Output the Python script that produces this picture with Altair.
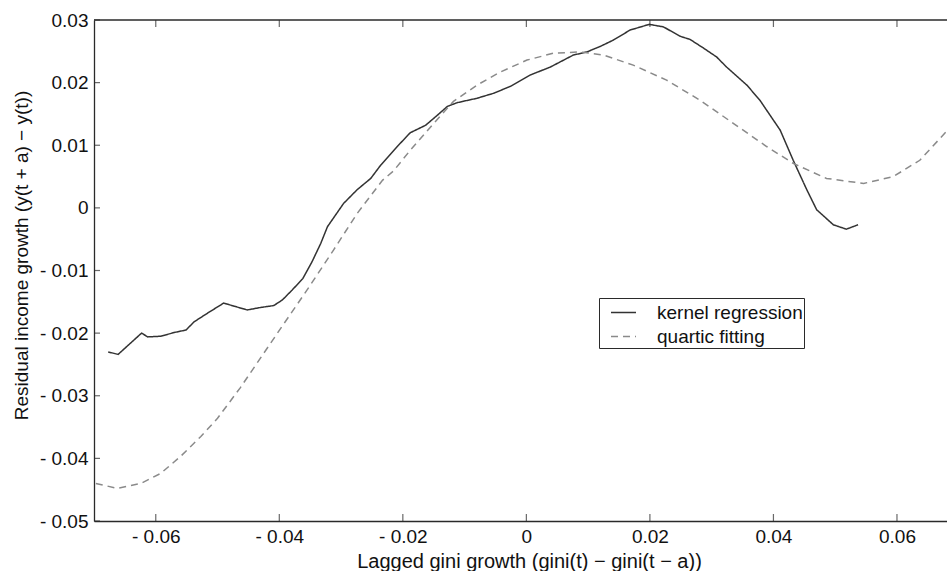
import altair as alt
import pandas as pd

series_names = ["kernel regression", "quartic fitting"]

kernel_x = [-0.0677, -0.0661, -0.0623, -0.0613, -0.0592, -0.0570, -0.0551, -0.0538, -0.0516,
            -0.0490, -0.0473, -0.0452, -0.0430, -0.0409, -0.0395, -0.0379, -0.0362, -0.0347,
            -0.0333, -0.0322, -0.0296, -0.0274, -0.0252, -0.0236, -0.0209, -0.0188, -0.0163,
            -0.0144, -0.0128, -0.0112, -0.0080, -0.0053, -0.0026, 0.0006, 0.0039, 0.0076,
            0.0098, 0.0120, 0.0141, 0.0168, 0.0199, 0.0222, 0.0249, 0.0265, 0.0287, 0.0308,
            0.0324, 0.0357, 0.0378, 0.0411, 0.0432, 0.0454, 0.0470, 0.0497, 0.0518, 0.0537]
kernel_y = [-0.0230, -0.0234, -0.0200, -0.0206, -0.0205, -0.0199, -0.0195, -0.0182, -0.0168,
            -0.0152, -0.0157, -0.0163, -0.0159, -0.0156, -0.0147, -0.0131, -0.0113, -0.0086,
            -0.0057, -0.0030, 0.0007, 0.0029, 0.0047, 0.0068, 0.0098, 0.0120, 0.0132,
            0.0148, 0.0162, 0.0168, 0.0175, 0.0183, 0.0194, 0.0212, 0.0225, 0.0244,
            0.0249, 0.0258, 0.0268, 0.0284, 0.0293, 0.0289, 0.0274, 0.0269, 0.0255, 0.0241,
            0.0225, 0.0196, 0.0172, 0.0124, 0.0076, 0.0029, -0.0003, -0.0027, -0.0034, -0.0027]

quartic_x = [-0.0697, -0.0662, -0.0624, -0.0592, -0.0560, -0.0527, -0.0500, -0.0463, -0.0403,
             -0.0355, -0.0312, -0.0274, -0.0233, -0.0215, -0.0188, -0.0150, -0.0118, -0.0080,
             -0.0042, 0.0001, 0.0044, 0.0087, 0.0125, 0.0173, 0.0227, 0.0281, 0.0335, 0.0389,
             0.0432, 0.0486, 0.0546, 0.0594, 0.0637, 0.0680]
quartic_y = [-0.0440, -0.0448, -0.0440, -0.0424, -0.0397, -0.0365, -0.0336, -0.0287, -0.0200,
             -0.0131, -0.0067, -0.0009, 0.0044, 0.0059, 0.0092, 0.0135, 0.0170, 0.0196,
             0.0217, 0.0236, 0.0247, 0.0249, 0.0244, 0.0228, 0.0204, 0.0172, 0.0135, 0.0098,
             0.0071, 0.0047, 0.0039, 0.0050, 0.0076, 0.0122]

x_ticks = [-0.06, -0.04, -0.02, 0, 0.02, 0.04, 0.06]
y_ticks = [-0.05, -0.04, -0.03, -0.02, -0.01, 0, 0.01, 0.02, 0.03]

df = pd.concat([
    pd.DataFrame({"x": kernel_x, "y": kernel_y, "series": series_names[0]}),
    pd.DataFrame({"x": quartic_x, "y": quartic_y, "series": series_names[1]}),
])

W, H = 853, 501
FONT = "Liberation Sans"
INK = "#2a2a2a"
TICK = 7

xs = alt.Scale(domain=[-0.07, 0.0681], nice=False, zero=False)
ys = alt.Scale(domain=[-0.05, 0.03], nice=False, zero=False)

lab = "datum.value == 0 ? '0' : (datum.value < 0 ? '- ' : '') + format(abs(datum.value), '.2f')"

x_axis = alt.Axis(
    values=x_ticks, labelExpr=lab, title="Lagged gini growth (gini(t) \u2212 gini(t \u2212 a))",
    labelFlush=False, labelOverlap=False, labelPadding=6, titleFontSize=20,
    titleX=435, titleY=40, titleAlign="center", titleBaseline="middle")
y_axis = alt.Axis(
    values=y_ticks, labelExpr=lab, title="Residual income growth (y(t + a) \u2212 y(t))",
    labelFlush=False, labelOverlap=False, labelPadding=6,
    titleX=-73, titleY=235, titleAngle=-90, titleAlign="center", titleBaseline="middle")

legend = alt.Legend(
    orient="none", legendX=505, legendY=278, title=None,
    symbolType="stroke", symbolSize=625, symbolStrokeWidth=1.4,
    labelFont=FONT, labelFontSize=19, labelColor="#111111", labelOffset=20,
    rowPadding=-2, padding=1, symbolOffset=10,
    strokeColor=INK, fillColor="white",
)

lines = alt.Chart(df).mark_line(strokeWidth=1.5, clip=True).encode(
    x=alt.X("x:Q", scale=xs, axis=x_axis),
    y=alt.Y("y:Q", scale=ys, axis=y_axis),
    color=alt.Color("series:N", scale=alt.Scale(domain=series_names, range=["#333333", "#8a8a8a"]),
                    legend=legend),
    strokeDash=alt.StrokeDash("series:N", scale=alt.Scale(domain=series_names, range=[[1, 0], [7, 5]]),
                              legend=legend),
)

xt = pd.DataFrame({"v": x_ticks})
yt = pd.DataFrame({"v": y_ticks})
one = pd.DataFrame({"v": [0]})

bottom_ticks = alt.Chart(xt).mark_tick(color=INK, thickness=1.2, size=TICK, orient="vertical").encode(
    x=alt.X("v:Q", scale=xs, axis=None), y=alt.value(H - TICK / 2))
top_ticks = alt.Chart(xt).mark_tick(color=INK, thickness=1.2, size=TICK, orient="vertical").encode(
    x=alt.X("v:Q", scale=xs, axis=None), y=alt.value(TICK / 2))
left_ticks = alt.Chart(yt).mark_tick(color=INK, thickness=1.2, size=TICK - 1, orient="horizontal").encode(
    y=alt.Y("v:Q", scale=ys, axis=None), x=alt.value((TICK - 1) / 2))
top_line = alt.Chart(one).mark_rule(color=INK, strokeWidth=1.3).encode(
    x=alt.value(0), x2=alt.value(W), y=alt.value(0))

chart = alt.layer(lines, bottom_ticks, top_ticks, left_ticks, top_line).resolve_axis(
    x="independent", y="independent"
).properties(
    width=W, height=H,
    autosize=alt.AutoSizeParams(type="none"),
    padding={"left": 94, "top": 20, "right": 0, "bottom": 50},
    background="white",
).configure_view(stroke=None).configure_axis(
    domainColor=INK, domainWidth=1.3, ticks=False, grid=False,
    labelFont=FONT, labelFontSize=19, labelColor="#111111",
    titleFont=FONT, titleFontSize=19, titleFontWeight="normal", titleColor="#111111",
)

chart.save("out.html", embed_options={"renderer": "svg", "actions": False})
